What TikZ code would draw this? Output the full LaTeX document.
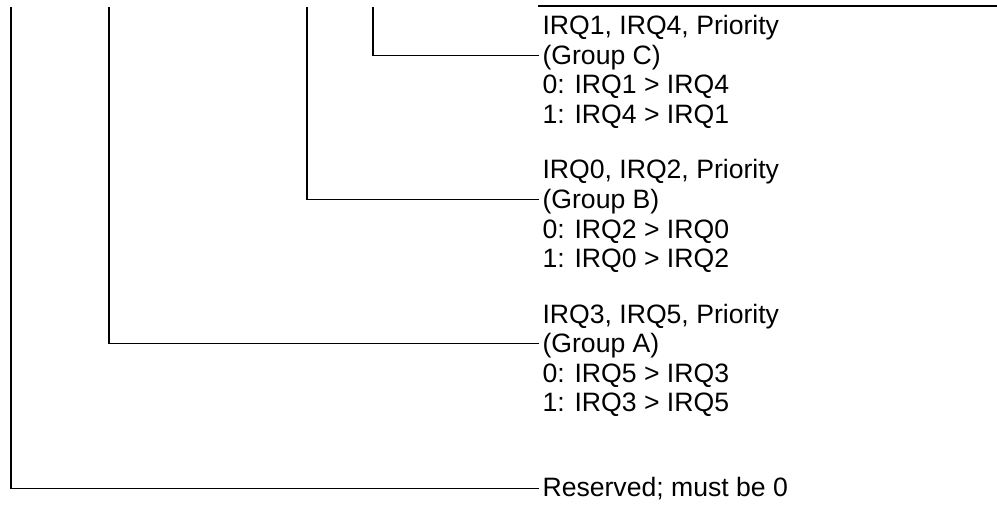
\documentclass[tikz,border=0pt]{standalone}
\usepackage{fontspec}
\setmainfont{Liberation Sans}
\usetikzlibrary{positioning}

\begin{document}
\begin{tikzpicture}[x=0.5pt,y=-0.5pt,line width=0.55pt,
  txt/.style={anchor=base west,inner sep=1.5pt,font=\fontsize{13.3}{15}\selectfont}]
  \useasboundingbox (0,0) rectangle (997,508);
  % bit lines
  \coordinate (b7) at (11,7);
  \coordinate (b6) at (109,7);
  \coordinate (b5) at (307,7);
  \coordinate (b4) at (373,7);
  \coordinate (topL) at (538,6.5);
  \coordinate (topR) at (997,6.5);
  % group C
  \node[txt] (c1) at (539,35) {IRQ1, IRQ4, Priority};
  \node[txt] (c2) at (539,64.5) {(Group C)};
  \node[txt] (c3) at (539,94) {0: IRQ1 > IRQ4};
  \node[txt] (c4) at (539,123.5) {1: IRQ4 > IRQ1};
  % group B
  \node[txt] (g1) at (539,179) {IRQ0, IRQ2, Priority};
  \node[txt] (g2) at (539,208.5) {(Group B)};
  \node[txt] (g3) at (539,238) {0: IRQ2 > IRQ0};
  \node[txt] (g4) at (539,267.5) {1: IRQ0 > IRQ2};
  % group A
  \node[txt] (a1) at (539,323) {IRQ3, IRQ5, Priority};
  \node[txt] (a2) at (539,352.5) {(Group A)};
  \node[txt] (a3) at (539,382) {0: IRQ5 > IRQ3};
  \node[txt] (a4) at (539,411.5) {1: IRQ3 > IRQ5};
  % reserved
  \node[txt] (resv) at (539,496) {Reserved; must be 0};
  \draw[line width=1pt] (topL) -- (topR);
  \draw (b4) |- ([yshift=1pt]c2.west);
  \draw (b5) |- ([yshift=1pt]g2.west);
  \draw (b6) |- ([yshift=1pt]a2.west);
  \draw (b7) |- (resv.west);
\end{tikzpicture}
\end{document}
